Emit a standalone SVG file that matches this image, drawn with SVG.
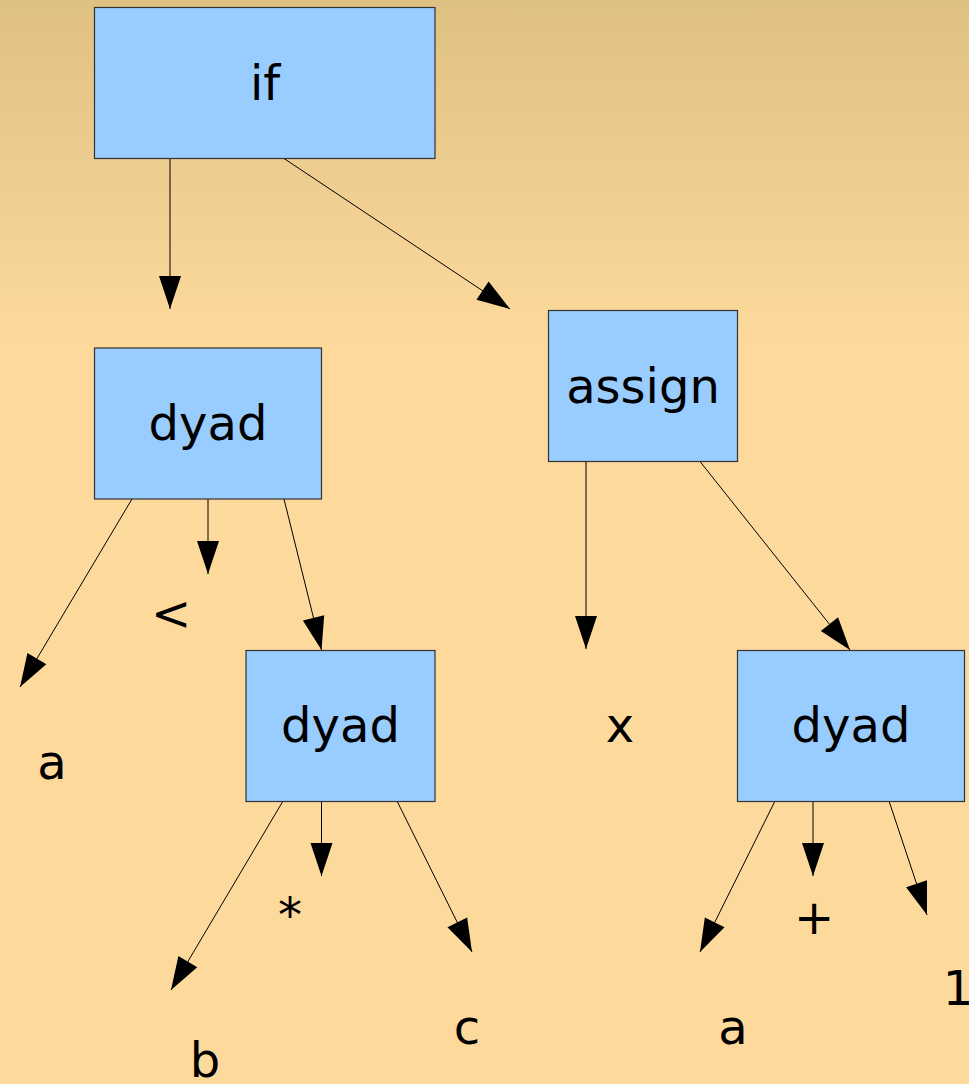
<svg xmlns="http://www.w3.org/2000/svg" width="969" height="1084" viewBox="0 0 969 1084">
  <defs>
    <linearGradient id="bg" x1="0" y1="0" x2="0" y2="340" gradientUnits="userSpaceOnUse">
      <stop offset="0" stop-color="#dfc083"/>
      <stop offset="1" stop-color="#fdd99c"/>
    </linearGradient>
    <marker id="head" markerUnits="userSpaceOnUse" markerWidth="34" markerHeight="24" refX="33" refY="11" orient="auto" viewBox="0 0 34 24" overflow="visible">
      <path d="M0,0 L33,11 L0,22 Z" fill="#000"/>
    </marker>
    <style>
      .box { fill: #99ccff; stroke: #333333; stroke-width: 1.2; }
      .lbl { font-family: "DejaVu Sans", "Liberation Sans", sans-serif; font-size: 48px; fill: #000; text-anchor: middle; }
      .edge { stroke: #000; stroke-width: 1; fill: none; marker-end: url(#head); }
    </style>
  </defs>

  <rect x="0" y="0" width="969" height="1084" fill="url(#bg)"/>

  <!-- connectors -->
  <g id="connectors">
    <line class="edge" x1="170" y1="158.5" x2="170" y2="309"/>
    <line class="edge" x1="284" y1="158.5" x2="510" y2="309"/>
    <line class="edge" x1="132" y1="499" x2="20" y2="687"/>
    <line class="edge" x1="208" y1="499" x2="208" y2="574"/>
    <line class="edge" x1="284" y1="499" x2="321.5" y2="650"/>
    <line class="edge" x1="586" y1="461.5" x2="586" y2="649"/>
    <line class="edge" x1="700" y1="461.5" x2="850" y2="650"/>
    <line class="edge" x1="283" y1="801" x2="171" y2="990"/>
    <line class="edge" x1="321.5" y1="801" x2="321.5" y2="876"/>
    <line class="edge" x1="397" y1="801" x2="472" y2="952"/>
    <line class="edge" x1="775" y1="801" x2="700" y2="952"/>
    <line class="edge" x1="813" y1="801" x2="813" y2="876"/>
    <line class="edge" x1="889" y1="801" x2="927" y2="915"/>
  </g>

  <!-- tree nodes -->
  <g id="node-if">
    <rect class="box" x="94.5" y="7.5" width="340.5" height="151"/>
    <text class="lbl" x="265" y="100">if</text>
  </g>
  <g id="node-dyad-cmp">
    <rect class="box" x="94.5" y="348" width="227" height="151"/>
    <text class="lbl" x="208" y="440">dyad</text>
  </g>
  <g id="node-assign">
    <rect class="box" x="548.5" y="310.5" width="189" height="151"/>
    <text class="lbl" x="643" y="403">assign</text>
  </g>
  <g id="node-dyad-mul">
    <rect class="box" x="246" y="650.5" width="189" height="151"/>
    <text class="lbl" x="340.5" y="742">dyad</text>
  </g>
  <g id="node-dyad-add">
    <rect class="box" x="737.5" y="650.5" width="227" height="151"/>
    <text class="lbl" x="851" y="742">dyad</text>
  </g>

  <!-- leaves -->
  <g id="leaf-a1"><text class="lbl" x="52" y="779">a</text></g>
  <g id="leaf-lt"><text class="lbl" x="171" y="630">&lt;</text></g>
  <g id="leaf-x"><text class="lbl" x="620" y="742">x</text></g>
  <g id="leaf-b"><text class="lbl" x="205" y="1077">b</text></g>
  <g id="leaf-mul"><text class="lbl" x="290" y="932">*</text></g>
  <g id="leaf-c"><text class="lbl" x="467" y="1044">c</text></g>
  <g id="leaf-a2"><text class="lbl" x="733" y="1044">a</text></g>
  <g id="leaf-plus"><text class="lbl" x="814" y="934">+</text></g>
  <g id="leaf-one"><text class="lbl" x="958" y="1005">1</text></g>
</svg>
